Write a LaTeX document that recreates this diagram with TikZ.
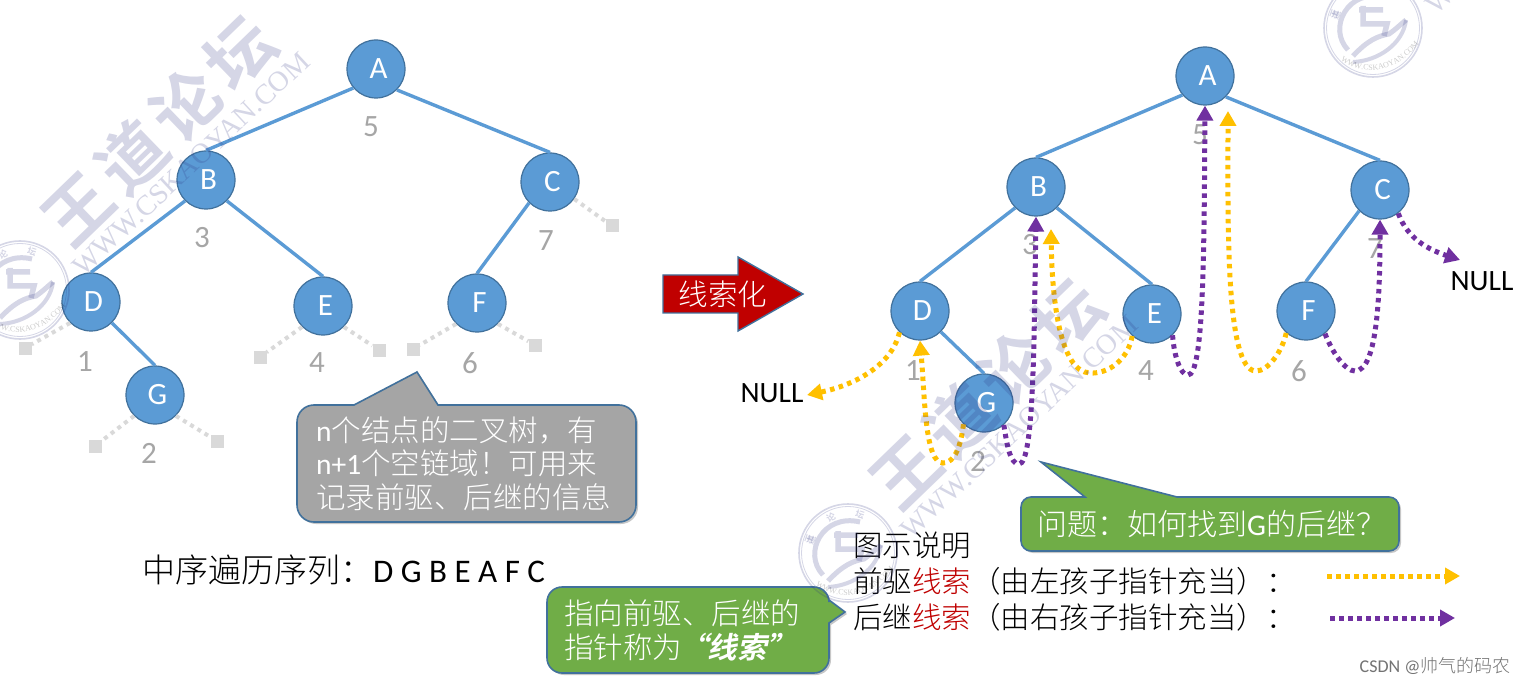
\documentclass[tikz,border=0pt]{standalone}
\usepackage{fontspec}
\usetikzlibrary{arrows.meta,decorations.text,calc}
\setmainfont{Carlito}
\newfontfamily\cjk{Noto Sans CJK SC Light}
\newfontfamily\cjkb{Noto Sans CJK SC Bold}
\newfontfamily\cjkwm[LetterSpace=12]{Noto Sans CJK SC Bold}
\newfontfamily\cjkbi[FakeSlant=0.22]{Noto Sans CJK SC Bold}
\newfontfamily\wmserif{Liberation Serif}
\definecolor{nodeblue}{HTML}{5B9BD5}
\definecolor{edgeline}{HTML}{41719C}
\definecolor{ogreen}{HTML}{70AD47}
\definecolor{ogray}{HTML}{A5A5A5}
\definecolor{oorange}{HTML}{FFC000}
\definecolor{opurple}{HTML}{7030A0}
\definecolor{ored}{HTML}{C00000}
\definecolor{numgray}{HTML}{A6A6A6}
\definecolor{stubgray}{HTML}{D9D9D9}
\definecolor{wmink}{RGB}{45,50,130}
\newcommand{\nl}[1]{\kern5pt #1}
\tikzset{
  x=1pt,y=-1pt,
  treenode/.style={circle,draw=edgeline,line width=1.2pt,fill=nodeblue,minimum size=58pt,inner sep=0pt,text=white,font=\fontsize{31}{31}\selectfont},
  treeedge/.style={draw=nodeblue,line width=3.4pt},
  numlabel/.style={text=numgray,inner sep=0pt,font=\fontsize{31}{31}\selectfont},
  stubsq/.style={rectangle,fill=stubgray,minimum size=13pt,inner sep=0pt},
  stubline/.style={draw=stubgray,line width=4pt,dash pattern=on 4pt off 4.4pt},
  thr/.style={line width=5pt,dash pattern=on 4.5pt off 4.5pt,-{Triangle[length=15pt,width=16pt]}},
  preline/.style={thr,draw=oorange},
  sucline/.style={thr,draw=opurple},
  callout/.style={draw=edgeline,line width=1.6pt},
  calloutshadow/.style={fill=black,opacity=.22},
  plain/.style={inner sep=0pt,anchor=base west,align=left},
  nulltext/.style={inner sep=0pt,font=\fontsize{29.5}{30}\selectfont},
  wm/.style={draw=none,text=wmink,inner sep=0pt}
}
\begin{document}
\begin{tikzpicture}
\useasboundingbox (0,0) rectangle (1522,684);
\fill[white] (0,0) rectangle (1522,684);

% left tree
\node[numlabel] (l5) at (371,127) {5};
\node[numlabel] (l3) at (202,238) {3};
\node[numlabel] (l7) at (546,241) {7};
\node[numlabel] (l1) at (85,362) {1};
\node[numlabel] (l4) at (317,363) {4};
\node[numlabel] (l6) at (470,363) {6};
\node[numlabel] (l2) at (149,453) {2};
\node[treenode] (A) at (376,69) {\nl A};
\node[treenode] (B) at (206,180) {\nl B};
\node[treenode] (C) at (550,182) {\nl C};
\node[treenode] (D) at (91,302) {\nl D};
\node[treenode] (E) at (323,306) {\nl E};
\node[treenode] (F) at (477,303) {\nl F};
\node[treenode] (G) at (155,395) {\nl G};
\draw[treeedge] (A.220)--(B.north); \draw[treeedge] (A.-45)--(C.north); \draw[treeedge] (B.225)--(D.north); \draw[treeedge] (B.-45)--(E.north);
\draw[treeedge] (C.225)--(F.north); \draw[treeedge] (D.-45)--(G.north);
\node[stubsq] (s1) at (612,226) {};
\node[stubsq] (s2) at (25,348) {};
\node[stubsq] (s3) at (260,357) {};
\node[stubsq] (s4) at (379,350) {};
\node[stubsq] (s5) at (413,349) {};
\node[stubsq] (s6) at (535,345) {};
\node[stubsq] (s7) at (95,446) {};
\node[stubsq] (s8) at (217,441) {};
\draw[stubline] (C.-35)--(s1); \draw[stubline] (D.225)--(s2); \draw[stubline] (E.225)--(s3); \draw[stubline] (E.-45)--(s4);
\draw[stubline] (F.225)--(s5); \draw[stubline] (F.-45)--(s6); \draw[stubline] (G.225)--(s7); \draw[stubline] (G.-45)--(s8);

% grey callout
\fill[calloutshadow] (356,407) -- (419,374) -- (440,407) [rounded corners=17pt] -- (638,407) -- (638,524) -- (299,524) -- (299,407) [sharp corners] -- cycle;
\draw[callout,fill=ogray] (354,405) -- (417,372) -- (438,405) [rounded corners=17pt] -- (636,405) -- (636,522) -- (297,522) -- (297,405) [sharp corners] -- cycle;
\node[plain,text=white,font=\fontsize{29.5}{33.5}\selectfont\cjk] (grey) at (316,508) {{\rmfamily n}个结点的二叉树，有\\{\rmfamily n+1}个空链域！可用来\\记录前驱、后继的信息};

\node[plain,font=\fontsize{33}{33}\selectfont] (seq) at (142,582) {{\cjk 中序遍历序列：}D G B E A F C};

% big arrow
\draw[draw=edgeline,line width=1.4pt,fill=ored] (663,275) -- (738,275) -- (738,257) -- (803,294) -- (738,331) -- (738,313) -- (663,313) -- cycle;
\node[text=white,inner sep=0pt,font=\fontsize{29.5}{30}\selectfont\cjk] (xsh) at (723,294) {线索化};

% right tree
\node[numlabel] (r5) at (1200,135) {5};
\node[numlabel] (r3) at (1030,245) {3};
\node[numlabel] (r7) at (1375,249) {7};
\node[numlabel] (r1) at (913,371) {1};
\node[numlabel] (r4) at (1146,371) {4};
\node[numlabel] (r6) at (1299,371) {6};
\node[numlabel] (r2) at (978,461) {2};
\node[treenode] (A2) at (1205,76) {\nl A};
\node[treenode] (B2) at (1036,187) {\nl B};
\node[treenode] (C2) at (1380,190) {\nl C};
\node[treenode] (D2) at (920,311) {\nl D};
\node[treenode] (E2) at (1152,314) {\nl E};
\node[treenode] (F2) at (1306,311) {\nl F};
\node[treenode] (G2) at (984,403) {\nl G};
\draw[treeedge] (A2.220)--(B2.north); \draw[treeedge] (A2.-45)--(C2.north); \draw[treeedge] (B2.225)--(D2.north); \draw[treeedge] (B2.-45)--(E2.north);
\draw[treeedge] (C2.225)--(F2.north); \draw[treeedge] (D2.-45)--(G2.north);

\node[nulltext] (nullL) at (772,393) {NULL};
\node[nulltext] (nullR) at (1482,281) {NULL};
\coordinate (nlL) at (807,395);
\coordinate (nlR) at (1460,260);
\coordinate (bt) at (1051,229);
\coordinate (at) at (1228,111);

% threads
\draw[preline] (D2.226) .. controls (892,365) and (855,385) .. (nlL);
\draw[preline] (G2.226) .. controls (961,445) and (955,463) .. (943,463) .. controls (925,463) and (925,400) .. (D2.south);
\draw[sucline] (G2.-48) .. controls (1007,445) and (1010,464) .. (1019,464) .. controls (1034,464) and (1034,340) .. (B2.south);
\draw[preline] (E2.228) .. controls (1128,360) and (1108,374) .. (1090,373) .. controls (1060,372) and (1052,300) .. (bt);
\draw[sucline] (E2.-46) .. controls (1174,355) and (1180,375) .. (1188,375) .. controls (1204,375) and (1204,250) .. (A2.south);
\draw[preline] (F2.228) .. controls (1282,352) and (1268,371) .. (1256,371) .. controls (1225,371) and (1228,220) .. (at);
\draw[sucline] (F2.-50) .. controls (1332,352) and (1345,371) .. (1355,371) .. controls (1378,371) and (1380,290) .. (C2.south);
\draw[sucline] (C2.-52) .. controls (1408,240) and (1430,250) .. (nlR);

% green callouts
\fill[calloutshadow] (1087,499) -- (1043,464) -- (1179,499) [rounded corners=10pt] -- (1401,499) -- (1401,553) -- (1023,553) -- (1023,499) [sharp corners] -- cycle;
\draw[callout,fill=ogreen] (1085,497) -- (1041,462) -- (1177,497) [rounded corners=10pt] -- (1399,497) -- (1399,551) -- (1021,551) -- (1021,497) [sharp corners] -- cycle;
\node[plain,text=white,font=\fontsize{30}{30}\selectfont\cjk] (q) at (1037,535) {问题：如何找到{\rmfamily G}的后继？};

\fill[calloutshadow] (831,625) -- (847,614) -- (831,602) [rounded corners=15pt] -- (831,589) -- (549,589) -- (549,675) -- (831,675) [sharp corners] -- cycle;
\draw[callout,fill=ogreen] (829,623) -- (845,612) -- (829,600) [rounded corners=15pt] -- (829,587) -- (547,587) -- (547,673) -- (829,673) [sharp corners] -- cycle;
\node[plain,text=white,font=\fontsize{29.5}{34}\selectfont\cjk] (tl) at (564,658) {指向前驱、后继的\\指针称为{\cjkbi\kern-4pt “线索”}};

% legend
\node[plain,font=\fontsize{29.5}{36}\selectfont\cjk] (legend) at (853,628) {图示说明\\前驱\textcolor{ored}{线索}（由左孩子指针充当）：\\后继\textcolor{ored}{线索}（由右孩子指针充当）：};
\coordinate (la1) at (1327,576); \coordinate (la2) at (1460,576);
\coordinate (lb1) at (1330,618); \coordinate (lb2) at (1455,618);
\draw[preline] (la1) -- (la2);
\draw[sucline] (lb1) -- (lb2);

\node[inner sep=0pt,text=black!55,font=\fontsize{18}{19}\selectfont] (csdn) at (1435,666) {CSDN @{\cjk 帅气的码农}};

% watermarks (overlaid)
\begin{scope}[opacity=.2]
\clip (0,0) rectangle (1522,684);
\foreach \dx/\dy in {0/0,828/263,1353/-262} {
  \begin{scope}[shift={(\dx,\dy)}]
    \node[wm,rotate=44] at (159,131) {\fontsize{67}{67}\selectfont\cjkwm 王道论坛};
    \node[wm,rotate=43] at (191,164) {\fontsize{28.5}{29}\selectfont\wmserif WWW.CSKAOYAN.COM};
    \begin{scope}[shift={(20,290)}]
      \draw[wmink,line width=1.6pt] (0,0) circle[radius=49];
      \draw[wmink,line width=.8pt] (0,0) circle[radius=46.5];
      \draw[wmink,line width=5pt] (12,-31) .. controls (-25,-40) and (-46,0) .. (-25,22);
      \draw[wmink,line width=5.5pt] (-14,-18) -- (10,-18) (-10,-22) -- (-10,-4) -- (14,-4) -- (11,8);
      \draw[wmink,line width=5pt] (-20,28) .. controls (-5,12) and (5,8) .. (16,6) .. controls (22,2) and (28,-4) .. (33,-8);
      \draw[wmink,line width=4pt] (-20,34) .. controls (5,33) and (30,16) .. (33,-8);
      \node[wm,rotate=71] at (199:41) {\fontsize{9}{9}\selectfont\cjkb 王};
      \node[wm,rotate=71] at (-37,-13) {\fontsize{9}{9}\selectfont\cjkb 道};
      \node[wm,rotate=26] at (-17,-36) {\fontsize{9}{9}\selectfont\cjkb 论};
      \node[wm,rotate=-18] at (12,-38) {\fontsize{9}{9}\selectfont\cjkb 坛};
      \path[decorate,decoration={text along path,text align=center,text={|\fontsize{8}{8}\selectfont\wmserif|WWW.CSKAOYAN.COM}}] (-30,34) .. controls (-12,47) and (20,47) .. (44,18);
    \end{scope}
  \end{scope}
}
\end{scope}
\end{tikzpicture}
\end{document}
